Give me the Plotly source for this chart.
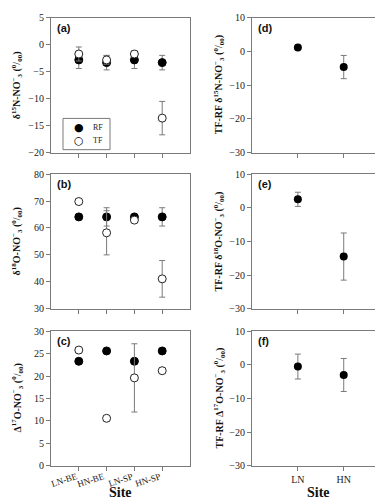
import plotly.graph_objects as go

# ---- data ----
sites4 = ["LN-BE", "HN-BE", "LN-SP", "HN-SP"]
sites2 = ["LN", "HN"]
legend_labels = ["RF", "TF"]

d15N_RF = [-2.8, -3.3, -2.8, -3.3]
d15N_RF_err = [1.6, 1.35, 1.6, 1.35]
d15N_TF = [-1.7, -2.8, -1.7, -13.6]
d15N_TF_err = [1.3, 0.8, 0.6, 3.1]

d18O_RF = [64.1, 64.1, 64.1, 64.1]
d18O_RF_err = [0.6, 3.4, 0.6, 3.4]
d18O_TF = [69.8, 58.2, 62.9, 41.1]
d18O_TF_err = [1.0, 8.2, 0.8, 6.8]

D17O_RF = [23.3, 25.6, 23.3, 25.6]
D17O_RF_err = [0.5, 0.5, 0.5, 0.5]
D17O_TF = [25.8, 10.6, 19.6, 21.2]
D17O_TF_err = [0.6, 0.6, 7.6, 0.6]

diff15N = [1.2, -4.6]
diff15N_err = [0.5, 3.45]
diff18O = [2.5, -14.5]
diff18O_err = [2.1, 7.0]
diff17O = [-0.5, -3.0]
diff17O_err = [3.7, 4.9]

W, H = 383, 500
SERIF = "Liberation Serif, Times New Roman, serif"
GREY = "#7a7a7a"

fig = go.Figure()

def px_dom(a, b, total):
    return [a / total, b / total]

xL = px_dom(43, 182, W)
xR = px_dom(244, 377, W)
rows = [(4, 142), (164, 302), (325, 463)]
yd = [[1 - b / H, 1 - a / H] for a, b in rows]

xpos4 = [1, 2, 3, 4]
xpos2 = [1, 2]

def err(arr):
    return dict(type="data", array=arr, visible=True, color=GREY, thickness=1, width=3)

left_data = [
    (d15N_RF, d15N_RF_err, d15N_TF, d15N_TF_err),
    (d18O_RF, d18O_RF_err, d18O_TF, d18O_TF_err),
    (D17O_RF, D17O_RF_err, D17O_TF, D17O_TF_err),
]
right_data = [(diff15N, diff15N_err), (diff18O, diff18O_err), (diff17O, diff17O_err)]

for i, (rf, rfe, tf, tfe) in enumerate(left_data):
    ax = 2 * i + 1
    xa = "x" if ax == 1 else f"x{ax}"
    ya = "y" if ax == 1 else f"y{ax}"
    fig.add_trace(go.Scatter(x=xpos4, y=rf, error_y=err(rfe), mode="markers",
                             marker=dict(color="black", size=8, line=dict(color="black", width=1)),
                             name="RF", showlegend=False, xaxis=xa, yaxis=ya))
    fig.add_trace(go.Scatter(x=xpos4, y=tf, error_y=err(tfe), mode="markers",
                             marker=dict(color="white", size=8, line=dict(color="#222", width=1)),
                             name="TF", showlegend=False, xaxis=xa, yaxis=ya))

for i, (v, e) in enumerate(right_data):
    ax = 2 * i + 2
    fig.add_trace(go.Scatter(x=xpos2, y=v, error_y=err(e), mode="markers",
                             marker=dict(color="black", size=8),
                             showlegend=False, xaxis=f"x{ax}", yaxis=f"y{ax}"))

yranges_left = [[-20, 5], [30, 80], [0, 30]]
ytick_left = [[-20, -15, -10, -5, 0, 5], [30, 40, 50, 60, 70, 80], [0, 5, 10, 15, 20, 25, 30]]
yrange_right = [-30, 10]
ytick_right = [-30, -20, -10, 0, 10]

common_axis = dict(showline=True, linecolor=GREY, linewidth=1, mirror=True,
                   ticks="outside", tickcolor=GREY, ticklen=4, tickwidth=1,
                   showgrid=False, zeroline=False,
                   tickfont=dict(family=SERIF, size=10, color="#222"))

layout = dict(width=W, height=H, margin=dict(l=0, r=0, t=0, b=0),
              paper_bgcolor="white", plot_bgcolor="white", showlegend=False)

for i in range(3):
    axL = 2 * i + 1
    axR = 2 * i + 2
    kxL = "xaxis" if axL == 1 else f"xaxis{axL}"
    kyL = "yaxis" if axL == 1 else f"yaxis{axL}"
    yL = "y" if axL == 1 else f"y{axL}"
    xLn = "x" if axL == 1 else f"x{axL}"
    layout[kxL] = dict(common_axis, domain=xL, range=[0, 5], anchor=yL,
                       tickvals=xpos4, ticktext=[""] * 4)
    layout[kyL] = dict(common_axis, domain=yd[i], range=yranges_left[i], anchor=xLn,
                       tickvals=ytick_left[i])
    layout[f"xaxis{axR}"] = dict(common_axis, domain=xR, range=[0, 2.9], anchor=f"y{axR}",
                                 tickvals=xpos2, ticktext=sites2 if i == 2 else ["", ""])
    layout[f"yaxis{axR}"] = dict(common_axis, domain=yd[i], range=yrange_right, anchor=f"x{axR}",
                                 tickvals=ytick_right)

fig.update_layout(**layout)

# slanted category labels for panel (c), placed at the category positions of axis x5
for xv, lab in zip(xpos4, sites4):
    fig.add_annotation(text=lab, x=xv, xref="x5", y=1 - 467 / H, yref="paper",
                       xanchor="right", yanchor="top", showarrow=False, textangle=-18,
                       xshift=1, borderpad=0,
                       font=dict(family=SERIF, size=9, color="#222"))

# manual legend box in panel (a)
fig.add_shape(type="rect", xref="paper", yref="paper",
              x0=55 / W, x1=102 / W, y0=1 - 139 / H, y1=1 - 107 / H,
              line=dict(color=GREY, width=1), fillcolor="white", layer="above")
symbols = ["●", "○"]
for k, (sym, lab) in enumerate(zip(symbols, legend_labels)):
    yy = 1 - (116 + 14 * k) / H
    fig.add_annotation(text=sym, x=71 / W, y=yy, xref="paper", yref="paper", showarrow=False,
                       xanchor="center", yanchor="middle",
                       font=dict(family="DejaVu Sans", size=11, color="black"))
    fig.add_annotation(text=lab, x=83 / W, y=yy, xref="paper", yref="paper", showarrow=False,
                       xanchor="left", yanchor="middle",
                       font=dict(family=SERIF, size=8, color="#222"))

# panel letters
letters = ["(a)", "(d)", "(b)", "(e)", "(c)", "(f)"]
for k, lab in enumerate(letters):
    ax = k + 1
    xr = "x domain" if ax == 1 else f"x{ax} domain"
    yr = "y domain" if ax == 1 else f"y{ax} domain"
    fig.add_annotation(text=f"<b>{lab}</b>", x=0.03, y=0.985, xref=xr, yref=yr,
                       xanchor="left", yanchor="top", showarrow=False,
                       font=dict(family="Liberation Sans, Arial, sans-serif", size=11, color="#111"))

unit = "(<sup>0</sup>/<sub>00</sub>)"
titles_left = [f"δ<sup>15</sup>N-NO<sup>−</sup><sub>3</sub> {unit}",
               f"δ<sup>18</sup>O-NO<sup>−</sup><sub>3</sub> {unit}",
               f"Δ<sup>17</sup>O-NO<sup>−</sup><sub>3</sub> {unit}"]
titles_right = [f"TF-RF δ<sup>15</sup>N-NO<sup>−</sup><sub>3</sub> {unit}",
                f"TF-RF δ<sup>18</sup>O-NO<sup>−</sup><sub>3</sub> {unit}",
                f"TF-RF Δ<sup>17</sup>O-NO<sup>−</sup><sub>3</sub> {unit}"]
for i in range(3):
    yc = (yd[i][0] + yd[i][1]) / 2
    fig.add_annotation(text=f"<b>{titles_left[i]}</b>", x=9 / W, y=yc, xref="paper", yref="paper",
                       textangle=-90, showarrow=False, xanchor="center", yanchor="middle",
                       font=dict(family=SERIF, size=10, color="#111"))
    fig.add_annotation(text=f"<b>{titles_right[i]}</b>", x=211 / W, y=yc, xref="paper", yref="paper",
                       textangle=-90, showarrow=False, xanchor="center", yanchor="middle",
                       font=dict(family=SERIF, size=10, color="#111"))

for xc in [(43 + 182) / 2, (244 + 377) / 2]:
    fig.add_annotation(text="<b>Site</b>", x=xc / W, y=1 - 490 / H, xref="paper", yref="paper",
                       showarrow=False, xanchor="center", yanchor="middle",
                       font=dict(family=SERIF, size=14, color="#111"))

fig.write_html("out.html")
